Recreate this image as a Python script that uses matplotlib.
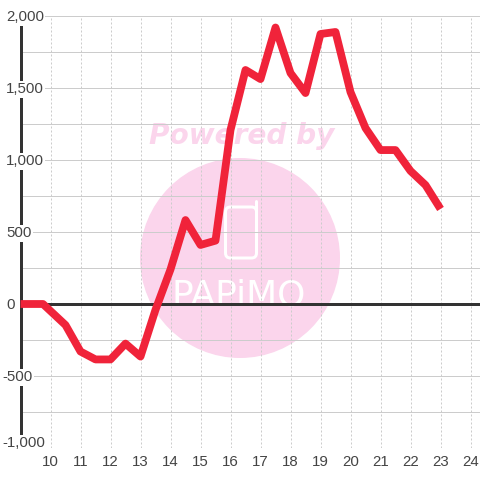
import matplotlib
matplotlib.use('Agg')
import matplotlib.pyplot as plt
from matplotlib.patches import Circle, FancyBboxPatch

# data
hours = [9, 9.5, 9.75, 10.5, 11, 11.5, 12, 12.5, 13, 13.5, 14, 14.5, 15, 15.5, 16,
         16.5, 17, 17.5, 18, 18.5, 19, 19.5, 20, 20.5, 21, 21.5, 22, 22.5, 23]
values = [0, 0, 0, -146, -330, -385, -385, -275, -365, -40, 240, 583, 410, 440, 1208,
          1625, 1562, 1920, 1604, 1465, 1875, 1889, 1472, 1222, 1069, 1069, 924, 826, 660]
x_ticks = list(range(10, 25))
y_labels = [2000, 1500, 1000, 500, 0, -500, -1000]
y_grid = [-1000, -750, -500, -250, 0, 250, 500, 750, 1000, 1250, 1500, 1750, 2000]

plt.rcParams['font.family'] = ['Liberation Sans', 'DejaVu Sans']

PX = 72 / 100  # one pixel in points
pink = '#fbd5ec'
text_col = '#444444'

fig = plt.figure(figsize=(4.8, 4.8), dpi=100, facecolor='white')

# watermark sits behind the chart, in pixel coordinates
bg = fig.add_axes([0, 0, 1, 1])
bg.set_xlim(0, 480)
bg.set_ylim(480, 0)
bg.axis('off')
bg.add_patch(Circle((240, 258), 100, color=pink, lw=0))
bg.text(242, 144, 'Powered by', color=pink, fontsize=28 * PX, fontweight='bold',
        fontstyle='italic', ha='center', va='baseline', family='DejaVu Sans')
bg.add_patch(FancyBboxPatch((225.5, 207), 31, 51, boxstyle='round,pad=0,rounding_size=5',
                            fc='none', ec='white', lw=3 * PX))
bg.plot([255.5, 255.5], [201, 215], color='white', lw=3 * PX, solid_capstyle='round')
bg.text(239, 305, 'PAPiMO', color='white', fontsize=36 * PX, ha='center', va='baseline',
        family='DejaVu Sans')

ax = fig.add_axes([20.5 / 480, 32 / 480, 459.5 / 480, 432 / 480])
ax.patch.set_visible(False)
ax.set_xlim(9, 9 + 459.5 / 30)
ax.set_ylim(-1000, 2000)
for s in ax.spines.values():
    s.set_visible(False)

ax.set_yticks(y_grid)
ax.set_xticks(x_ticks)
ax.set_yticklabels([])
ax.tick_params(axis='both', length=0)
ax.tick_params(axis='x', labelsize=15 * PX, labelcolor=text_col, pad=5)
ax.grid(axis='y', color='#cccccc', lw=1 * PX)
ax.grid(axis='x', color='#cccccc', lw=1 * PX, ls=(0, (2, 2)))
ax.set_axisbelow(True)

ax.axvline(9, color='#333333', lw=3 * PX, clip_on=False, zorder=3)
ax.axhline(0, color='#333333', lw=3 * PX, zorder=3)
ax.plot(hours, values, color='#f0233a', lw=7.8 * PX, solid_joinstyle='round',
        solid_capstyle='butt', zorder=4, clip_on=False)

# y labels stand on a white box and hide the axis line behind them
trans = ax.get_yaxis_transform()
for v in y_labels:
    left = -18.5 / 459.5 if v < 0 else -14.5 / 459.5
    ypos = -968 if v == -1000 else v - 10
    ax.text(left, ypos, f'{v:,}', transform=trans, ha='left', va='center', fontsize=15 * PX,
            color=text_col, zorder=5, clip_on=False,
            bbox=dict(fc='white', ec='none', pad=1))

fig.savefig('out.png', dpi=100)
